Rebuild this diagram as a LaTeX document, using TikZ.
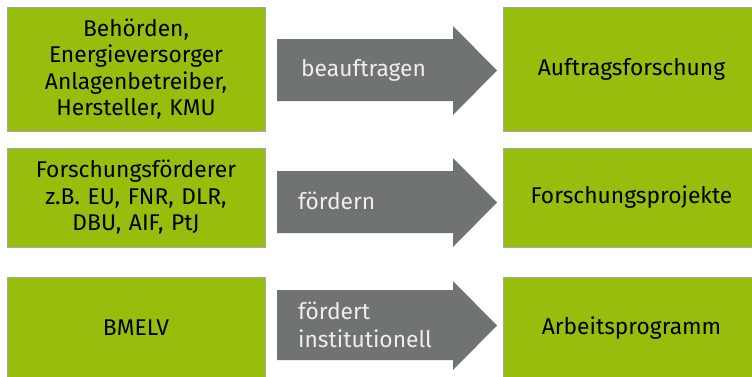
\documentclass[tikz,border=0pt]{standalone}
\usepackage{fontspec}
\setmainfont{Fira Sans}
\definecolor{leaf}{RGB}{151,190,13}
\definecolor{boxline}{RGB}{166,168,166}
\definecolor{arrowgray}{RGB}{111,115,115}
\definecolor{arrowtext}{RGB}{238,238,238}
\begin{document}
\begin{tikzpicture}[x=1pt,y=-1pt,
  box/.style={draw=boxline,line width=0.8pt,fill=leaf,align=center,
    font=\fontsize{22.8}{26.5}\selectfont,text=black,inner sep=0pt},
  leftbox/.style={box,minimum width=258,text width=254},
  rightbox/.style={box,minimum width=257,text width=254},
  blockarrow/.style={fill=arrowgray},
  arrowlabel/.style={anchor=west,align=left,text=arrowtext,
    font=\fontsize{22.8}{28}\selectfont,inner sep=0pt}]
\useasboundingbox (0,0) rectangle (752,376);
\clip (0,0) rectangle (752,376);
% row 1
\node[leftbox,minimum height=124] (s1) at (136,69)
  {Behörden,\\Energieversorger\\Anlagenbetreiber,\\Hersteller, KMU};
\node[rightbox,minimum height=124] (t1) at (631.5,69) {Auftragsforschung};
\fill[blockarrow] (277,39) -- (453,39) -- (453,26) -- (497,70.5) -- (453,115)
  -- (453,101) -- (277,101) -- cycle;
\node[arrowlabel] (a1) at (301,70) {beauftragen};
% row 2
\node[leftbox,minimum height=99] (s2) at (136,197.5)
  {Forschungsförderer\\z.B. EU, FNR, DLR,\\DBU, AIF, PtJ};
\node[rightbox,minimum height=99] (t2) at (631.5,197.5) {Forschungsprojekte};
\fill[blockarrow] (277,171) -- (453,171) -- (453,158) -- (497,202.5) -- (453,247)
  -- (453,233) -- (277,233) -- cycle;
\node[arrowlabel] (a2) at (298,201) {fördern};
% row 3
\node[leftbox,minimum height=102] (s3) at (136,328) {BMELV};
\node[rightbox,minimum height=102] (t3) at (631.5,328) {Arbeitsprogramm};
\fill[blockarrow] (277,290) -- (453,290) -- (453,281) -- (497,325.5) -- (453,370)
  -- (453,360) -- (277,360) -- cycle;
\node[arrowlabel] (a3) at (298,325) {fördert\\institutionell};
\end{tikzpicture}
\end{document}
